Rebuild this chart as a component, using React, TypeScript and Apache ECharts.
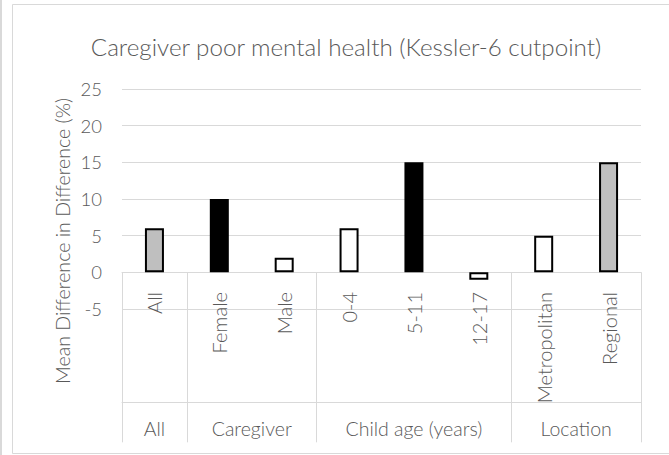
import React, { useEffect, useRef } from "react";
import * as echarts from "echarts";

const categories = ["All", "Female", "Male", "0-4", "5-11", "12-17", "Metropolitan", "Regional"];
const values = [6, 10, 2, 6, 15, -1, 5, 15];
const barFills = ["#bfbfbf", "#000000", "#ffffff", "#ffffff", "#000000", "#ffffff", "#ffffff", "#bfbfbf"];
const groupNames = ["All", "Caregiver", "Child age (years)", "Location"];
const groupSizes = [1, 2, 3, 2];
const yMin = -5;
const yMax = 25;
const yStep = 5;
const titleText = "Caregiver poor mental health (Kessler-6 cutpoint)";
const yAxisTitle = "Mean Difference in Difference (%)";

const FONT = "Lato";
const TXT = "#595959";
const GRID = "#d9d9d9";

export default function App() {
  const ref = useRef<HTMLDivElement>(null);
  useEffect(() => {
    document.body.style.margin = "0";
    const chart = echarts.init(ref.current!, null, { renderer: "svg" });

    const groupStarts: number[] = [];
    const groupCenters: number[] = [];
    let acc = 0;
    groupSizes.forEach((s) => {
      groupStarts.push(acc);
      groupCenters.push(acc + s / 2);
      acc += s;
    });

    chart.setOption({
      animation: false,
      title: {
        text: titleText,
        left: 341,
        top: 29,
        textAlign: "center",
        textStyle: { fontFamily: FONT, fontWeight: 300, fontSize: 24.2, color: TXT },
      },
      grid: { left: 122, right: 28, top: 89, bottom: 146, containLabel: false },
      xAxis: [
        {
          type: "category",
          data: categories,
          position: "bottom",
          boundaryGap: true,
          axisLine: { show: true, onZero: true, lineStyle: { color: GRID, width: 1 } },
          axisTick: {
            show: true,
            length: 170,
            inside: false,
            interval: (index: number) => groupStarts.indexOf(index) >= 0,
            lineStyle: { color: GRID, width: 1 },
          },
          axisLabel: {
            rotate: 90,
            margin: -17,
            interval: 0,
            fontFamily: FONT,
            fontWeight: 300,
            fontSize: 20,
            color: TXT,
          },
          splitLine: { show: false },
        },
        {
          type: "value",
          min: 0,
          max: categories.length,
          position: "bottom",
          offset: 93,
          axisLine: { show: true, onZero: false, lineStyle: { color: GRID, width: 1 } },
          axisTick: { show: false },
          splitLine: { show: false },
          axisLabel: {
            customValues: groupCenters,
            margin: 16,
            formatter: (v: number) => {
              const i = groupCenters.findIndex((c) => Math.abs(c - v) < 1e-6);
              return i >= 0 ? groupNames[i] : "";
            },
            fontFamily: FONT,
            fontWeight: 300,
            fontSize: 19.5,
            color: TXT,
          },
        },
      ],
      yAxis: {
        type: "value",
        min: yMin,
        max: yMax,
        interval: yStep,
        axisLine: { show: false },
        axisTick: { show: false },
        axisLabel: { margin: 20, fontFamily: FONT, fontWeight: 300, fontSize: 18.5, color: TXT },
        splitLine: { show: true, lineStyle: { color: GRID, width: 1 } },
      },
      graphic: [
        {
          type: "rect",
          silent: true,
          shape: { x: 12.5, y: 4.5, width: 700, height: 449 },
          style: { fill: "none", stroke: GRID, lineWidth: 1 },
        },
        {
          type: "line",
          silent: true,
          shape: { x1: 1, y1: 0, x2: 1, y2: 455 },
          style: { stroke: GRID, lineWidth: 2 },
        },
        {
          type: "text",
          silent: true,
          x: 62,
          y: 241,
          rotation: Math.PI / 2,
          style: {
            text: yAxisTitle,
            fontFamily: FONT,
            fontWeight: 300,
            fontSize: 19.6,
            fill: TXT,
            align: "center",
            verticalAlign: "middle",
          },
        },
      ],
      series: [
        {
          type: "bar",
          xAxisIndex: 0,
          yAxisIndex: 0,
          barWidth: 19,
          data: values.map((v, i) => ({
            value: v,
            itemStyle: { color: barFills[i], borderColor: "#000000", borderWidth: 2 },
          })),
        },
      ],
    });
    return () => chart.dispose();
  }, []);
  return <div ref={ref} style={{ width: 669, height: 455 }} />;
}
